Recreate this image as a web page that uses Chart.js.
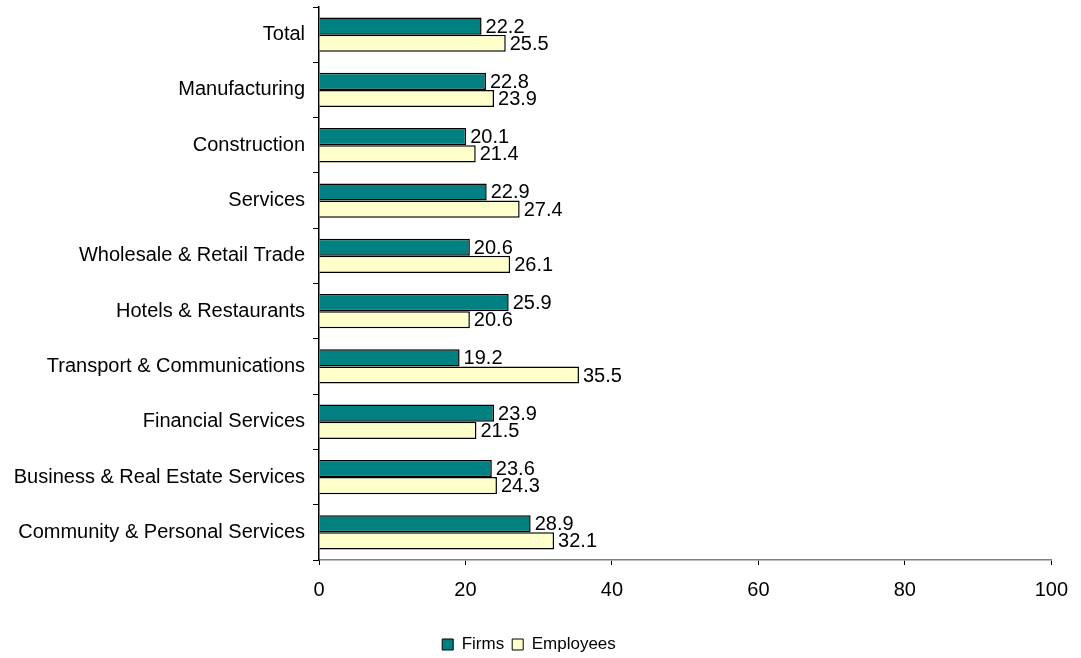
<!DOCTYPE html>
<html>
<head>
<meta charset="utf-8">
<script src="https://cdn.jsdelivr.net/npm/chart.js@4"></script>
<style>
  html, body { margin: 0; padding: 0; background: #fff; }
  #wrap { width: 1081px; height: 658px; }
</style>
</head>
<body>
<div id="wrap"><canvas id="chartSurvey"></canvas></div>
<script>
const categories = [
  "Total",
  "Manufacturing",
  "Construction",
  "Services",
  "Wholesale & Retail Trade",
  "Hotels & Restaurants",
  "Transport & Communications",
  "Financial Services",
  "Business & Real Estate Services",
  "Community & Personal Services",
];
const firms = [22.2, 22.8, 20.1, 22.9, 20.6, 25.9, 19.2, 23.9, 23.6, 28.9];
const employees = [25.5, 23.9, 21.4, 27.4, 26.1, 20.6, 35.5, 21.5, 24.3, 32.1];
const xTicks = [0, 20, 40, 60, 80, 100];

const FONT = "'Liberation Sans', Arial, sans-serif";
const FSIZE = 20;

// value labels next to each bar end
const barLabels = {
  id: "barLabels",
  afterDatasetsDraw(chart) {
    const ctx = chart.ctx;
    ctx.save();
    ctx.font = FSIZE + "px " + FONT;
    ctx.textBaseline = "middle";
    ctx.textAlign = "left";
    chart.data.datasets.forEach((ds, i) => {
      const meta = chart.getDatasetMeta(i);
      meta.data.forEach((bar, j) => {
        const txt = ds.data[j].toFixed(1);
        const w = ctx.measureText(txt).width;
        const x = bar.x + 4;
        ctx.fillStyle = "#fff";
        ctx.fillRect(x - 1, bar.y - 8, w + 2, 16);
        ctx.fillStyle = "#000";
        ctx.fillText(txt, x, bar.y + 1);
      });
    });
    ctx.restore();
  },
};

const data = {
  labels: categories,
  datasets: [
    {
      label: "Firms",
      data: firms,
      backgroundColor: "#008080",
      borderColor: "#000",
      borderWidth: 1.5,
      categoryPercentage: 0.62,
      barPercentage: 1.0,
    },
    {
      label: "Employees",
      data: employees,
      backgroundColor: "#FFFFCC",
      borderColor: "#000",
      borderWidth: 1.5,
      categoryPercentage: 0.62,
      barPercentage: 1.0,
    },
  ],
};

const config = {
  type: "bar",
  data,
  plugins: [barLabels],
  options: {
    indexAxis: "y",
    responsive: false,
    animation: false,
    layout: { padding: { top: 7, right: 23, bottom: -5, left: 0 } },
    plugins: {
      legend: {
        position: "bottom",
        labels: {
          color: "#000",
          font: { family: FONT, size: 17 },
          boxWidth: 11,
          boxHeight: 11,
          padding: 8,
          generateLabels(chart) {
            return chart.data.datasets.map((ds, i) => ({
              text: ds.label,
              fillStyle: ds.backgroundColor,
              strokeStyle: "#000",
              lineWidth: 1,
              datasetIndex: i,
              fontColor: "#000",
            }));
          },
        },
      },
      tooltip: { enabled: false },
    },
    scales: {
      x: {
        min: 0,
        max: 100,
        afterBuildTicks: (axis) => {
          axis.ticks = xTicks.map((v) => ({ value: v }));
        },
        afterFit: (axis) => {
          axis.height = axis.height + 13;
        },
        border: { color: "#808080", width: 1.5 },
        grid: { drawOnChartArea: false, tickLength: 5, color: "#000" },
        ticks: {
          color: "#000",
          font: { family: FONT, size: FSIZE },
          padding: 13,
        },
      },
      y: {
        afterFit: (axis) => {
          axis.width = 319;
          axis.paddingTop = 0;
          axis.paddingBottom = 0;
        },
        border: { color: "#000", width: 1.5 },
        grid: { drawOnChartArea: false, tickLength: 6, color: "#000", offset: true },
        ticks: {
          color: "#000",
          font: { family: FONT, size: FSIZE },
          padding: 8,
        },
      },
    },
  },
};

const canvas = document.getElementById("chartSurvey");
canvas.width = 1081;
canvas.height = 658;
const chartSurvey = new Chart(canvas, config);
</script>
</body>
</html>
